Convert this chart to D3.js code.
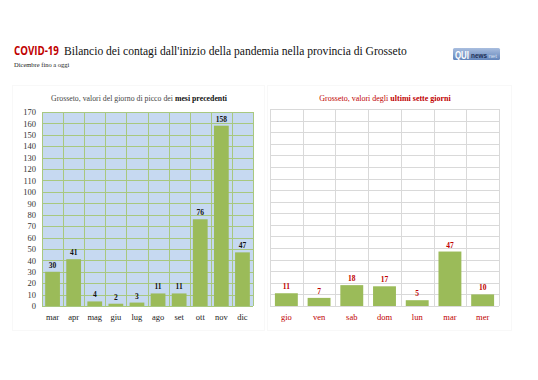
<!DOCTYPE html>
<html><head><meta charset="utf-8">
<script src="https://cdnjs.cloudflare.com/ajax/libs/d3/7.8.5/d3.min.js"></script>
<style>
body{margin:0;background:#fff;}
svg{display:block;}
</style></head>
<body>
<script>
const months = ["mar","apr","mag","giu","lug","ago","set","ott","nov","dic"];
const monthValues = [30,41,4,2,3,11,11,76,158,47];
const days = ["gio","ven","sab","dom","lun","mar","mer"];
const dayValues = [11,7,18,17,5,47,10];
const yTicks = [0,10,20,30,40,50,60,70,80,90,100,110,120,130,140,150,160,170];

const W=538,H=380;
const svg=d3.select("body").append("svg").attr("width",W).attr("height",H);
const serif="'Liberation Serif','DejaVu Serif',serif";
const RED="#c00000";

// text squeezed horizontally to a target width via transform
function fitText(x,y,target,txt,attrs){
  const el=svg.append("text").text(txt);
  Object.entries(attrs).forEach(([k,v])=>el.attr(k,v));
  const w=el.node().getComputedTextLength();
  const s=Math.min(1,target/w);
  el.attr("transform",`translate(${x},${y}) scale(${s},1)`);
  return el;
}

// Title
fitText(14,55,45,"COVID-19",{"font-family":"'Open Sans','Liberation Sans',sans-serif","font-weight":"bold","font-size":12.5,"fill":RED});
fitText(64,55,343,"Bilancio dei contagi dall'inizio della pandemia nella provincia di Grosseto",{"font-family":serif,"font-size":13.5,"fill":"#111"});
svg.append("text").attr("x",14).attr("y",67).attr("font-family",serif).attr("font-size",6.5).attr("fill","#222").text("Dicembre fino a oggi");

// Logo
const defs=svg.append("defs");
const g=defs.append("linearGradient").attr("id","lg").attr("x1",0).attr("y1",0).attr("x2",0).attr("y2",1);
g.append("stop").attr("offset",0).attr("stop-color","#a9bedf");
g.append("stop").attr("offset",1).attr("stop-color","#6385bb");
svg.append("rect").attr("x",453).attr("y",48).attr("width",47).attr("height",12).attr("rx",1.5).attr("fill","url(#lg)");
fitText(455,58.5,14,"QUI",{"font-family":"'Liberation Sans',sans-serif","font-weight":"bold","font-size":10,"fill":"#fff"});
fitText(471,57.5,16,"news",{"font-family":"'Liberation Sans',sans-serif","font-weight":"bold","font-size":6.5,"fill":"#1d2f55"});
fitText(488.5,57.5,9,"net",{"font-family":"'Liberation Sans',sans-serif","font-size":6,"fill":"#d6e0f2"});

// Panel borders (very faint)
svg.append("rect").attr("x",12.5).attr("y",85.5).attr("width",252).attr("height",245).attr("fill","none").attr("stroke","#f8f8f8");
svg.append("rect").attr("x",267.5).attr("y",85.5).attr("width",244).attr("height",245).attr("fill","none").attr("stroke","#f8f8f8");

function chart(opt){
  const {cats,vals,x0,x1,y0,y1,bg,grid,labelColor,valColor,showY}=opt;
  const x=d3.scaleBand().domain(cats).range([x0,x1]).paddingInner(0.3).paddingOuter(0.15);
  const xb=d3.scaleBand().domain(cats).range([x0,x1]);
  const y=d3.scaleLinear().domain([0,170]).range([y0,y1]);
  const gg=svg.append("g");
  gg.append("rect").attr("x",x0).attr("y",y1).attr("width",x1-x0).attr("height",y0-y1).attr("fill",bg);
  gg.selectAll(".hg").data(yTicks).enter().append("line")
    .attr("x1",x0).attr("x2",x1).attr("y1",d=>Math.round(y(d))+0.5).attr("y2",d=>Math.round(y(d))+0.5)
    .attr("stroke",grid).attr("stroke-width",1);
  const bounds=cats.map(c=>xb(c)).concat([x1]);
  gg.selectAll(".vg").data(bounds).enter().append("line")
    .attr("x1",d=>Math.round(d)+0.5).attr("x2",d=>Math.round(d)+0.5).attr("y1",y1).attr("y2",y0)
    .attr("stroke",grid).attr("stroke-width",1);
  gg.selectAll(".bar").data(vals).enter().append("rect")
    .attr("x",(d,i)=>x(cats[i])).attr("width",x.bandwidth())
    .attr("y",d=>y(d)).attr("height",d=>y0-y(d)).attr("fill","#9bbb59");
  gg.selectAll(".vl").data(vals).enter().append("text")
    .attr("x",(d,i)=>x(cats[i])+x.bandwidth()/2).attr("y",d=>y(d)-4)
    .attr("text-anchor","middle").attr("font-family",serif).attr("font-weight","bold").attr("font-size",7.5)
    .attr("fill",valColor).text(d=>d);
  const xa=d3.axisBottom(xb).tickSize(0).tickPadding(8);
  const xg=gg.append("g").attr("transform",`translate(0,${y0})`).call(xa);
  xg.select(".domain").remove();
  xg.selectAll("text").attr("font-family",serif).attr("font-size",8.5).attr("fill",labelColor);
  if(showY){
    const ya=d3.axisLeft(y).tickValues(yTicks).tickSize(0).tickPadding(6);
    const yg=gg.append("g").attr("transform",`translate(${x0},0)`).call(ya);
    yg.select(".domain").remove();
    yg.selectAll("text").attr("font-family",serif).attr("font-size",8.5).attr("fill","#333");
  }
}

chart({cats:months,vals:monthValues,x0:42,x1:253,y0:306,y1:112,bg:"#c6d9f1",grid:"#a8c880",labelColor:"#222",valColor:"#111",showY:true});
chart({cats:days,vals:dayValues,x0:270,x1:499,y0:306,y1:109,bg:"#ffffff",grid:"#d9d9d9",labelColor:RED,valColor:RED,showY:false});

const s1=svg.append("text").attr("x",139).attr("y",101).attr("text-anchor","middle").attr("font-family",serif).attr("font-size",7.8).attr("fill","#444");
s1.append("tspan").text("Grosseto, valori del giorno di picco dei ");
s1.append("tspan").attr("font-weight","bold").attr("fill","#111").text("mesi precedenti");
const s2=svg.append("text").attr("x",385).attr("y",101).attr("text-anchor","middle").attr("font-family",serif).attr("font-size",8).attr("fill",RED);
s2.append("tspan").text("Grosseto, valori degli ");
s2.append("tspan").attr("font-weight","bold").text("ultimi sette giorni");
</script>
</body></html>
